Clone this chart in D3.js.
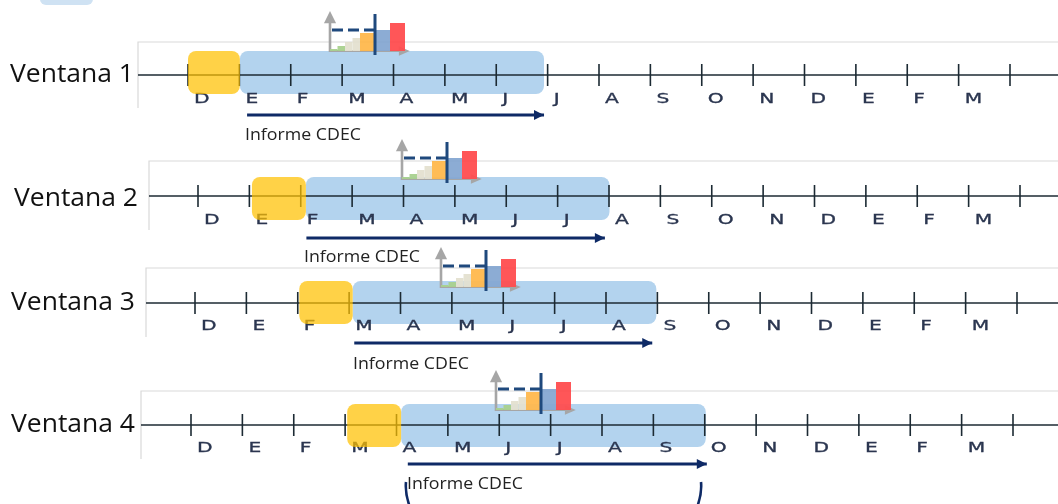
<!DOCTYPE html>
<html>
<head>
<meta charset="utf-8">
<script src="https://cdn.jsdelivr.net/npm/d3@7"></script>
<style>
  html, body { margin: 0; padding: 0; background: #fff; }
  svg { display: block; filter: blur(0.35px); }
</style>
</head>
<body>
<div id="chart"></div>
<script>
const width = 1058;
const height = 504;

// months shown under each timeline, one per tick gap
const months1 = ["D","E","F","M","A","M","J","J","A","S","O","N","D","E","F","M"];
const months2 = ["D","E","F","M","A","M","J","J","A","S","O","N","D","E","F","M"];
const months3 = ["D","E","F","M","A","M","J","J","A","S","O","N","D","E","F","M"];
const months4 = ["D","E","F","M","A","M","J","J","A","S","O","N","D","E","F","M"];
const allMonths = [months1, months2, months3, months4];

const windowNames = ["Ventana 1", "Ventana 2", "Ventana 3", "Ventana 4"];
const reportLabel = "Informe CDEC";

// windows, in months from the first tick
const yellowStart = [0, 1.05, 2.03, 3.04];
const blueStart = [1.01, 2.1, 3.07, 4.09];
const blueEnd = [6.93, 8.01, 8.98, 10.02];
const arrowStart = [1.15, 2.11, 3.1, 4.22];
const arrowEnd = [6.93, 7.92, 8.9, 10.04];

// little bar chart sitting above every window
const insetBars = [2, 5, 9, 13, 18, 21, 28];
const insetSpans = [1, 1, 1, 1, 2, 2, 2];
const insetColors = ["#a9d18e", "#a9d18e", "#e4e0d0", "#e4e0d0", "#ffb84d", "#86a8d2", "#ff4d4f"];
const insetThreshold = 21;

// panel layout
const panels = [
  { frameX: 138, frameY: 42, frameB: 108, axisY: 75, bandY: 51, tick0: 188, labelX: 10, labelY: 82, monthY: 103, arrowY: 115, textX: 245, textY: 140, insetX: 330, insetY: 51 },
  { frameX: 149, frameY: 161, frameB: 230, axisY: 196, bandY: 177, tick0: 198, labelX: 14, labelY: 206, monthY: 224, arrowY: 238, textX: 304, textY: 262, insetX: 402, insetY: 179 },
  { frameX: 146, frameY: 268, frameB: 337, axisY: 303, bandY: 281, tick0: 195, labelX: 11, labelY: 310, monthY: 330, arrowY: 343, textX: 353, textY: 369, insetX: 441, insetY: 287 },
  { frameX: 141, frameY: 391, frameB: 459, axisY: 425, bandY: 404, tick0: 191, labelX: 11, labelY: 432, monthY: 452, arrowY: 464, textX: 407, textY: 489, insetX: 496, insetY: 410 }
];

const svg = d3.select("#chart")
  .append("svg")
  .attr("width", width)
  .attr("height", height)
  .attr("viewBox", [0, 0, width, height]);

svg.append("defs").append("marker")
  .attr("id", "navyHead")
  .attr("markerUnits", "userSpaceOnUse")
  .attr("viewBox", "0 0 10 10")
  .attr("refX", 10).attr("refY", 5)
  .attr("markerWidth", 11).attr("markerHeight", 10)
  .attr("orient", "auto")
  .append("path")
  .attr("d", "M0,0L10,5L0,10Z")
  .attr("fill", "#0e2a66");

// piece of a blue shape cut by the top of the picture
svg.append("rect")
  .attr("x", 40).attr("y", -12)
  .attr("width", 53).attr("height", 17)
  .attr("rx", 6)
  .attr("fill", "#cfe2f3");

panels.forEach((p, i) => {
  const g = svg.append("g");
  const x = d3.scaleLinear().domain([0, 16]).range([p.tick0, p.tick0 + 822]);

  // light frame
  g.append("path")
    .attr("d", `M${p.frameX},${p.frameB}V${p.frameY}H${width}`)
    .attr("fill", "none")
    .attr("stroke", "#d9d9d9")
    .attr("stroke-width", 1.2);

  g.append("text")
    .attr("x", p.labelX)
    .attr("y", p.labelY)
    .attr("font-family", "'Open Sans'")
    .attr("font-size", 26)
    .attr("fill", "#111")
    .attr("textLength", 124)
    .attr("lengthAdjust", "spacingAndGlyphs")
    .text(windowNames[i]);

  // blue window goes under the timeline
  g.append("rect")
    .attr("x", x(blueStart[i])).attr("y", p.bandY)
    .attr("width", x(blueEnd[i]) - x(blueStart[i])).attr("height", 43)
    .attr("rx", 8)
    .attr("fill", "#b3d3ee");

  // timeline
  g.append("line")
    .attr("x1", p.frameX).attr("x2", width)
    .attr("y1", p.axisY).attr("y2", p.axisY)
    .attr("stroke", "#1c2a33").attr("stroke-width", 1.5);

  g.selectAll(".tick")
    .data(d3.range(17))
    .enter()
    .append("line")
    .attr("x1", d => x(d)).attr("x2", d => x(d))
    .attr("y1", p.axisY - 11).attr("y2", p.axisY + 11)
    .attr("stroke", "#1c2a33").attr("stroke-width", 1.6);

  g.selectAll(".month")
    .data(allMonths[i])
    .enter()
    .append("text")
    .attr("transform", (d, j) => `translate(${x(j) + 6},${p.monthY}) scale(1.5,1)`)
    .attr("font-family", "'DejaVu Sans'")
    .attr("font-size", 13.5)
    .attr("fill", "#2b3650")
    .attr("stroke", "#2b3650")
    .attr("stroke-width", 0.3)
    .text(d => d);

  // yellow window is see-through, ticks show brown in it
  g.append("rect")
    .attr("x", x(yellowStart[i])).attr("y", p.bandY)
    .attr("width", x(blueStart[i]) - x(yellowStart[i])).attr("height", 43)
    .attr("rx", 8)
    .attr("fill", "#ffc000").attr("fill-opacity", 0.72);

  // report arrow
  g.append("line")
    .attr("x1", x(arrowStart[i])).attr("x2", x(arrowEnd[i]))
    .attr("y1", p.arrowY).attr("y2", p.arrowY)
    .attr("stroke", "#0e2a66").attr("stroke-width", 2.8)
    .attr("marker-end", "url(#navyHead)");

  g.append("text")
    .attr("x", p.textX).attr("y", p.textY)
    .attr("font-family", "'Open Sans'")
    .attr("font-size", 15.5)
    .attr("fill", "#222")
    .attr("textLength", 116)
    .attr("lengthAdjust", "spacingAndGlyphs")
    .text(reportLabel);

  // inset
  const ins = g.append("g").attr("transform", `translate(${p.insetX},${p.insetY})`);
  const bx = d3.scaleLinear().domain([0, d3.sum(insetSpans)]).range([0, 75]);
  const by = d3.scaleLinear().domain([0, 28]).range([0, -28]);
  const spanStart = d3.cumsum([0].concat(insetSpans));

  ins.append("path")
    .attr("d", "M0,1V-30M-4,-29L0,-37L4,-29Z")
    .attr("fill", "#a6a6a6").attr("stroke", "#a6a6a6").attr("stroke-width", 2.6);
  ins.append("path")
    .attr("d", "M0,0H70M70,-3L77,0L70,3Z")
    .attr("fill", "#a6a6a6").attr("stroke", "#a6a6a6").attr("stroke-width", 2.2);

  ins.selectAll("rect")
    .data(insetBars)
    .enter()
    .append("rect")
    .attr("x", (d, j) => bx(spanStart[j]))
    .attr("y", d => by(d))
    .attr("width", (d, j) => bx(insetSpans[j]))
    .attr("height", d => -by(d))
    .attr("fill", (d, j) => insetColors[j])
    .attr("fill-opacity", 0.95);

  ins.append("line")
    .attr("x1", 2).attr("x2", 45)
    .attr("y1", by(insetThreshold)).attr("y2", by(insetThreshold))
    .attr("stroke", "#1f497d").attr("stroke-width", 3)
    .attr("stroke-dasharray", "11 5");
  ins.append("line")
    .attr("x1", 45).attr("x2", 45)
    .attr("y1", -37).attr("y2", 4)
    .attr("stroke", "#1f497d").attr("stroke-width", 3);
});

// brace at the bottom of the last panel, cut by the picture edge
svg.append("path")
  .attr("d", "M406,482C405,492 407,500 411,510M701,482C702,492 700,500 696,510")
  .attr("fill", "none")
  .attr("stroke", "#0e2a66")
  .attr("stroke-width", 2.6);
</script>
</body>
</html>
